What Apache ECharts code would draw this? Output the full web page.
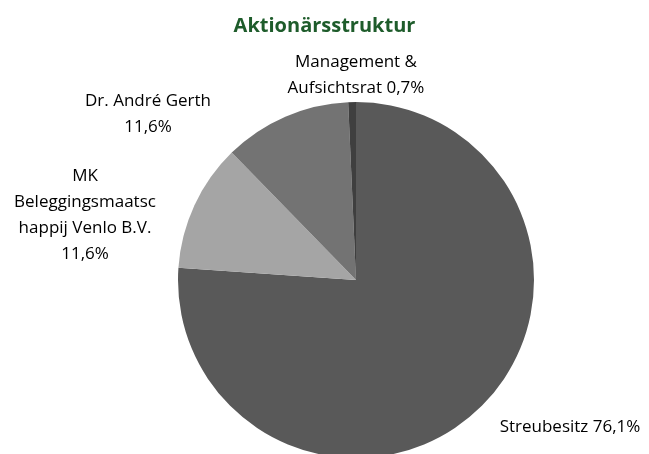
<!DOCTYPE html>
<html>
<head>
<meta charset="utf-8">
<script src="https://cdn.jsdelivr.net/npm/echarts@6/dist/echarts.min.js"></script>
<style>
  html, body { margin: 0; padding: 0; background: #fff; }
  #main { width: 649px; height: 454px; }
</style>
</head>
<body>
<div id="main"></div>
<script>
var names = ['Streubesitz', 'MK\nBeleggingsmaatsc\nhappij Venlo B.V.', 'Dr. André Gerth', 'Management &\nAufsichtsrat'];
var values = [76.1, 11.6, 11.6, 0.7];
var valueText = ['76,1%', '11,6%', '11,6%', '0,7%'];
var colors = ['#595959', '#a5a5a5', '#737373', '#3f3f3f'];

// where each label sits (centre of text block) and how the value is joined
var labelPos = [[570, 427], [85, 215], [148, 114], [356, 75]];
var joiner = [' ', '\n', '\n', ' '];

var myChart = echarts.init(document.getElementById('main'));

myChart.setOption({
    animation: false,
    title: {
        text: 'Aktionärsstruktur',
        left: 'center',
        top: 11,
        textStyle: {
            fontFamily: 'Open Sans',
            fontSize: 20,
            fontWeight: 'bold',
            color: '#1e5c2b'
        }
    },
    series: [{
        type: 'pie',
        center: [356, 280],
        radius: 178,
        startAngle: 90,
        clockwise: true,
        itemStyle: {
            borderWidth: 0
        },
        label: {
            show: true,
            position: 'outside',
            fontFamily: 'Open Sans',
            fontSize: 17,
            lineHeight: 26,
            color: '#000',
            align: 'center',
            overflow: 'none',
            formatter: function (p) {
                return names[p.dataIndex] + joiner[p.dataIndex] + valueText[p.dataIndex];
            }
        },
        labelLine: { show: false },
        labelLayout: function (p) {
            var pos = labelPos[p.dataIndex];
            return {
                x: pos[0],
                y: pos[1],
                align: 'center',
                verticalAlign: 'middle'
            };
        },
        data: values.map(function (v, i) {
            return { name: names[i], value: v, itemStyle: { color: colors[i] } };
        })
    }]
});
</script>
</body>
</html>
